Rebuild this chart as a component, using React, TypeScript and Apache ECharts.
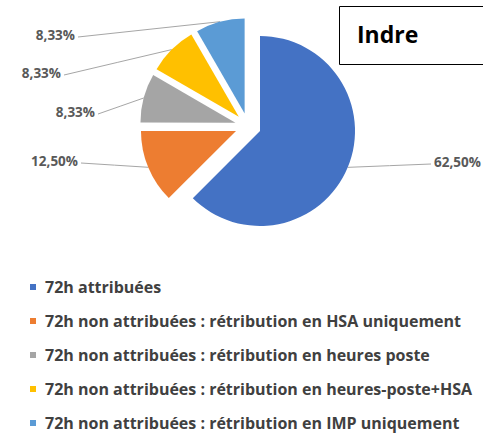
import React, { useEffect, useRef } from "react";
import * as echarts from "echarts";

const categories = [
  "72h attribuées",
  "72h non attribuées : rétribution en HSA uniquement",
  "72h non attribuées : rétribution en heures poste",
  "72h non attribuées : rétribution en heures-poste+HSA",
  "72h non attribuées : rétribution en IMP uniquement",
];
const values = [62.5, 12.5, 8.33, 8.33, 8.33];
const colors = ["#4472C4", "#ED7D31", "#A5A5A5", "#FFC000", "#5B9BD5"];
const title = "Indre";

// label anchor positions (layout only)
const labelPos: { x: number; y: number; align: string }[] = [
  { x: 434, y: 162, align: "left" },
  { x: 78, y: 161, align: "right" },
  { x: 95, y: 112, align: "right" },
  { x: 61, y: 73, align: "right" },
  { x: 75, y: 35, align: "right" },
];

const CENTER = [248, 126];
const RADIUS = 95;
const EXPLODE = 13;

const fmt = (v: number) => v.toFixed(2).replace(".", ",") + "%";

export default function App() {
  const ref = useRef<HTMLDivElement>(null);
  useEffect(() => {
    if (!ref.current) return;
    const chart = echarts.init(ref.current, undefined, { renderer: "svg" });
    const data = categories.map((name, i) => ({ name, value: values[i] }));
    chart.setOption({
      animation: false,
      backgroundColor: "#ffffff",
      color: colors,
      graphic: [
        {
          type: "rect",
          shape: { x: 339.5, y: 6.5, width: 150, height: 58 },
          style: { fill: "#ffffff", stroke: "#000000", lineWidth: 1 },
          z: 10,
        },
        {
          type: "text",
          x: 357,
          y: 34,
          style: {
            text: title,
            fill: "#000000",
            font: "bold 23px 'Open Sans', sans-serif",
            textVerticalAlign: "middle",
          },
          z: 11,
        },
      ],
      legend: {
        orient: "vertical",
        left: 30,
        top: 279,
        padding: 0,
        height: 170,
        icon: "rect",
        itemWidth: 6,
        itemHeight: 6,
        itemGap: 18,
        selectedMode: false,
        textStyle: {
          color: "#404040",
          fontFamily: "Open Sans",
          fontWeight: "bold",
          fontSize: 16,
          lineHeight: 16,
          padding: [0, 0, 0, 4],
        },
        data: categories,
      },
      series: [
        {
          type: "pie",
          center: CENTER,
          radius: RADIUS,
          startAngle: 90,
          clockwise: true,
          selectedMode: "multiple",
          selectedOffset: EXPLODE,
          emphasis: { disabled: true },
          itemStyle: { borderWidth: 0 },
          label: { show: false },
          labelLine: { show: false },
          data: data.map((d) => ({ ...d, selected: true })),
        },
        {
          type: "pie",
          center: CENTER,
          radius: RADIUS,
          startAngle: 90,
          clockwise: true,
          silent: true,
          selectedMode: false,
          emphasis: { disabled: true },
          itemStyle: { color: "rgba(0,0,0,0)", borderWidth: 0 },
          label: {
            show: true,
            position: "outside",
            formatter: (p: any) => fmt(p.value),
            color: "#595959",
            fontFamily: "Open Sans",
            fontWeight: "bold",
            fontSize: 13.5,
          },
          labelLine: {
            show: true,
            length: 10,
            length2: 10,
            lineStyle: { color: "#A6A6A6", width: 1 },
          },
          labelLayout: (params: any) => {
            const p = labelPos[params.dataIndex];
            const pts = params.labelLinePoints;
            let start = [0, 0];
            if (pts && pts[0]) {
              const dx = pts[0][0] - CENTER[0];
              const dy = pts[0][1] - CENTER[1];
              const len = Math.sqrt(dx * dx + dy * dy) || 1;
              start = [pts[0][0] + (dx / len) * EXPLODE, pts[0][1] + (dy / len) * EXPLODE];
            }
            const endX = p.align === "right" ? p.x + 3 : p.x - 3;
            const end = [endX, p.y + 2];
            const mid = [(start[0] + end[0]) / 2, (start[1] + end[1]) / 2];
            return {
              x: p.x,
              y: p.y,
              align: p.align,
              verticalAlign: "middle",
              labelLinePoints: [start, mid, end],
            };
          },
          data,
        },
      ],
    });
    return () => chart.dispose();
  }, []);
  return (
    <div
      ref={ref}
      style={{ position: "absolute", left: 0, top: 0, width: 483, height: 433 }}
    />
  );
}
